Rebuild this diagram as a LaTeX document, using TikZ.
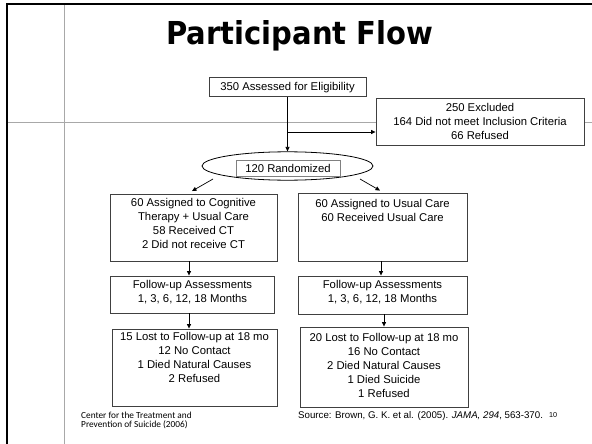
\documentclass[tikz,border=0pt]{standalone}
\usepackage{fontspec}
\usepackage{graphicx}
\setmainfont{Liberation Sans}
\newfontfamily\titlefont{DejaVu Sans}
\newfontfamily\notefont{Carlito}
\usetikzlibrary{shapes.geometric,arrows.meta}
\definecolor{boxgray}{HTML}{404040}
\definecolor{midgray}{HTML}{808080}
\definecolor{guidegray}{HTML}{A8A8A8}
\begin{document}
\begin{tikzpicture}[x=1pt,y=-1pt,
  box/.style={draw=boxgray, line width=0.9pt, inner sep=0pt, fill=white},
  txt/.style={font=\fontsize{11.3}{13.9}\selectfont, align=center, inner sep=0pt},
  arr/.style={-{Triangle[length=4.5pt,width=4pt]}, line width=0.7pt, draw=black},
  frameline/.style={line width=2pt, draw=black},
  guide/.style={line width=1pt, draw=guidegray}]

\fill[white] (0,0) rectangle (592,444);
\useasboundingbox (0,0) rectangle (592,444);

% slide frame and guides
\draw[guide] (64,5) -- (64,444);
\draw[guide] (8,122.5) -- (592,122.5);
\draw[frameline] (7,444) -- (7,4) -- (592,4);

% title
\node[anchor=base west, inner sep=0pt] (title) at (166,45)
  {\resizebox{267pt}{24pt}{\titlefont\bfseries Participant Flow}};

% boxes
\node[box, txt, minimum width=157pt, minimum height=19.5pt] (assess) at (287.5,87.2) {350 Assessed for Eligibility};
\node[box, txt, minimum width=208pt, minimum height=47pt, font=\fontsize{11.3}{13.6}\selectfont] (excl) at (480,121.5)
  {250 Excluded\\164 Did not meet Inclusion Criteria\\66 Refused};

\node[draw=black, line width=0.8pt, ellipse, fill=white, minimum width=171pt, minimum height=28.4pt, inner sep=0pt] (rand) at (287.5,166) {};
\node[draw=midgray, line width=0.8pt, txt, minimum width=104pt, minimum height=16pt] (randlbl) at (288,168) {120 Randomized};

\node[box, minimum width=167pt, minimum height=67pt] (cta) at (193.5,227.5) {};
\node[txt, anchor=north] (ctatext) at ([yshift=-4.8pt]cta.north)
  {60 Assigned to Cognitive\\Therapy + Usual Care\\58 Received CT\\2 Did not receive CT};

\node[box, minimum width=169pt, minimum height=68pt] (uc) at (382.5,227) {};
\node[txt, anchor=north] (uctext) at ([yshift=-6.8pt]uc.north)
  {60 Assigned to Usual Care\\60 Received Usual Care};

\node[box, minimum width=164pt, minimum height=37pt] (fua) at (192.5,294.5) {};
\node[txt, anchor=north] (fuatext) at ([yshift=-4.8pt]fua.north)
  {Follow-up Assessments\\1, 3, 6, 12, 18 Months};

\node[box, minimum width=169pt, minimum height=38pt] (fub) at (382.5,295) {};
\node[txt, anchor=north] (fubtext) at ([yshift=-4.8pt]fub.north)
  {Follow-up Assessments\\1, 3, 6, 12, 18 Months};

\node[box, minimum width=165pt, minimum height=77pt] (losta) at (194.5,367.5) {};
\node[txt, anchor=north] (lostatext) at ([yshift=-3.8pt]losta.north)
  {15 Lost to Follow-up at 18 mo\\12 No Contact\\1 Died Natural Causes\\2 Refused};

\node[box, minimum width=168pt, minimum height=80pt] (lostb) at (384,367) {};
\node[txt, anchor=north] (lostbtext) at ([yshift=-6.8pt]lostb.north)
  {20 Lost to Follow-up at 18 mo\\16 No Contact\\2 Died Natural Causes\\1 Died Suicide\\1 Refused};

% connectors
\draw[arr] (assess.south) -- (assess.south |- rand.north);
\coordinate (split) at (287.5,132);
\draw[arr] (split) -- (split -| excl.west);
\coordinate (rl) at (213,179);
\coordinate (rr) at (360,179);
\draw[arr] (rl) -- ([xshift=-1.5pt,yshift=2.5pt]cta.north);
\draw[arr] (rr) -- ([xshift=-2.5pt,yshift=2pt]uc.north);
\draw[arr] ([xshift=-4.5pt]cta.south) -- ([xshift=-4.5pt]cta.south |- fua.north);
\draw[arr] ([xshift=-1.5pt]uc.south) -- ([xshift=-1.5pt]uc.south |- fub.north);
\draw[arr] ([xshift=-3.5pt]fua.south) -- ([xshift=-3.5pt]fua.south |- losta.north);
\draw[arr] ([xshift=1.5pt]fub.south) -- ([xshift=1.5pt]fub.south |- lostb.north);

% footnotes
\node[font=\notefont\fontsize{9.3}{9.4}\selectfont, align=left, anchor=west, inner sep=0pt] (ctsp) at (81,420.5)
  {Center for the Treatment and\\Prevention of Suicide (2006)};
\node[font=\fontsize{9.7}{11}\selectfont, anchor=west, inner sep=0pt] (src) at (298,416)
  {Source: Brown, G. K. et al. (2005). \textit{JAMA, 294}, 563-370.};
\node[font=\fontsize{7.2}{8}\selectfont, anchor=west, inner sep=0pt] (pg) at (549,415.5) {10};
\end{tikzpicture}
\end{document}
